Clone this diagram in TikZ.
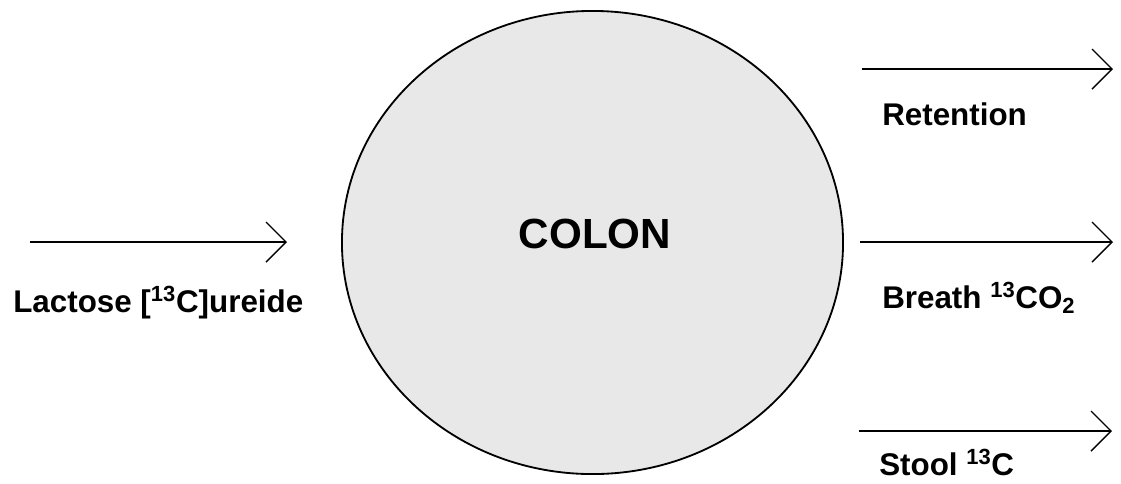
\documentclass[tikz,border=0pt]{standalone}
\usepackage{fontspec}
\setmainfont{Liberation Sans}
\usetikzlibrary{shapes.geometric,arrows.meta,positioning}

\tikzset{
  flow/.style={line width=1pt, -{Straight Barb[length=0.5cm,width=1cm,line width=1pt]}},
  lbl/.style={font=\fontsize{22.3}{26}\selectfont\bfseries, inner sep=0pt, anchor=base west},
  organ/.style={ellipse, draw, line width=1.3pt, fill=black!9, inner sep=0pt,
    minimum width=12.525cm, minimum height=11.575cm},
}

\begin{document}
\begin{tikzpicture}[x=0.025cm, y=-0.025cm]
  \useasboundingbox (0,0) rectangle (1121,483);

  % colon
  \node[organ] (colon) at (592.5,242.5) {};
  \node[font=\fontsize{30}{34}\selectfont\bfseries, inner sep=0pt, anchor=base] (colonlbl) at (595,248) {COLON};

  % input
  \coordinate (inS) at (30,242);
  \coordinate (inE) at (287,242);
  \draw[flow] (inS) -- (inE);
  \node[lbl] (lactose) at (13,312) {Lactose [\textsuperscript{13}C]ureide};

  % outputs
  \coordinate (retS) at (862,69);
  \coordinate (retE) at (1113,69);
  \draw[flow] (retS) -- (retE);
  \node[lbl] (retention) at (882,125) {Retention};

  \coordinate (brS) at (860,242);
  \coordinate (brE) at (1113,242);
  \draw[flow] (brS) -- (brE);
  \node[lbl] (breath) at (882,308) {Breath \textsuperscript{13}CO\textsubscript{2}};

  \coordinate (stS) at (859,431);
  \coordinate (stE) at (1112,431);
  \draw[flow] (stS) -- (stE);
  \node[lbl] (stool) at (879,475) {Stool \textsuperscript{13}C};
\end{tikzpicture}
\end{document}
